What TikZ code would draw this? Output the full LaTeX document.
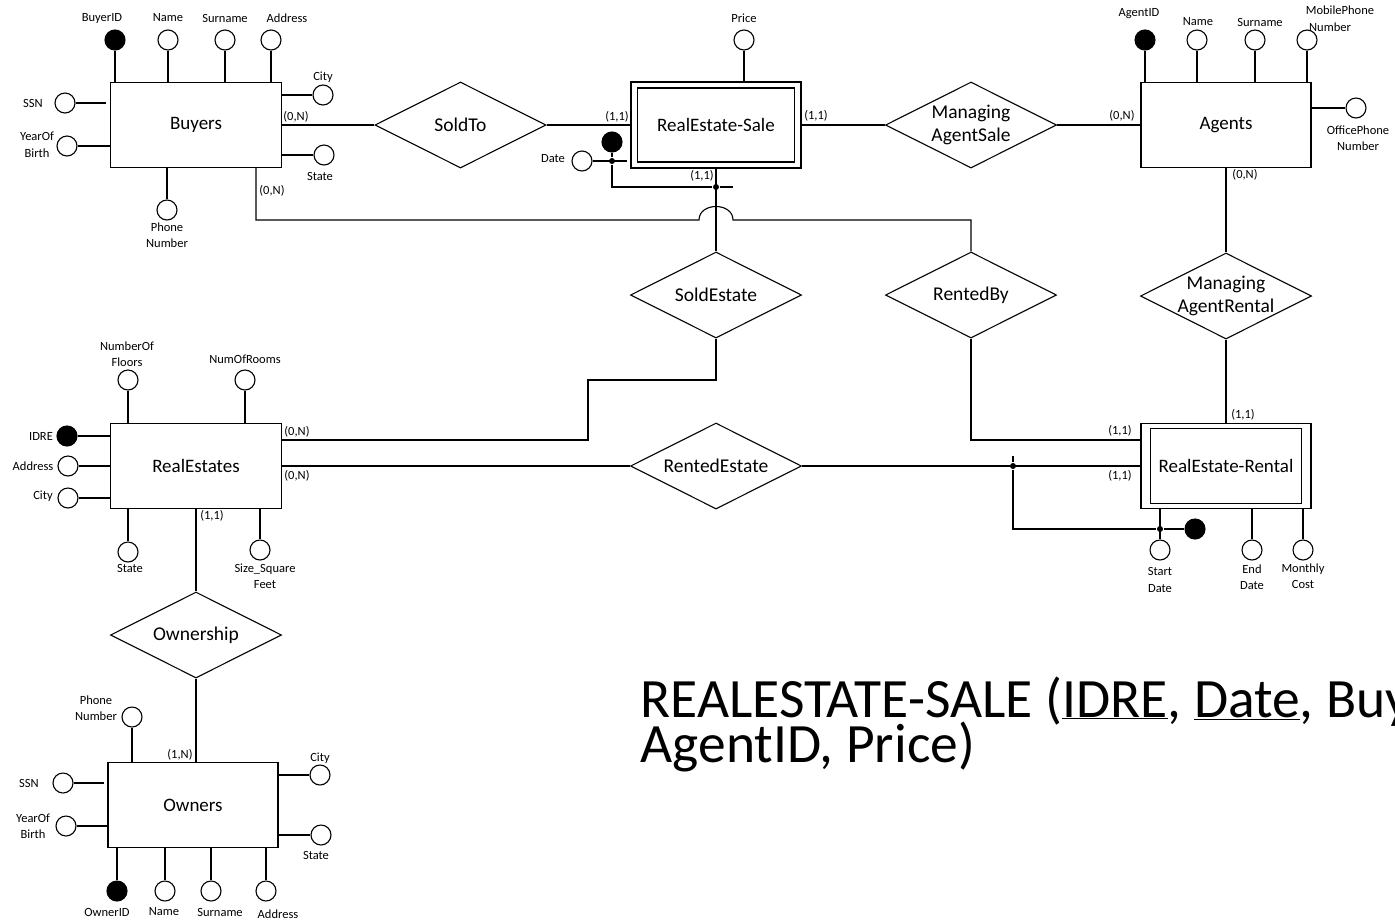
\documentclass[tikz,border=0pt]{standalone}
\usepackage{fontspec}
\setmainfont{Carlito}
\usetikzlibrary{shapes.geometric}
\begin{document}
\begin{tikzpicture}[x=1pt,y=-1pt, line width=1.1pt,
 ent/.style={draw, rectangle, minimum width=171pt, minimum height=85pt, inner sep=0pt, font=\fontsize{19}{22}\selectfont},
 rel/.style={draw, diamond, aspect=2, minimum width=171pt, minimum height=86pt, inner sep=0pt},
 reltxt/.style={font=\fontsize{19.5}{23}\selectfont, align=center, inner sep=0pt},
 attr/.style={draw, circle, minimum size=20pt, inner sep=0pt, fill=white},
 key/.style={attr, fill=black},
 lab/.style={font=\fontsize{12.5}{16.5}\selectfont, inner sep=0pt, align=center},
 dot/.style={circle, fill=black, minimum size=6pt, inner sep=0pt},
 big/.style={font=\fontsize{55.5}{60}\selectfont, inner sep=0pt, anchor=base west, text height=37pt, text depth=4pt},
]
\useasboundingbox (0,0) rectangle (1395,922);
\clip (0,0) rectangle (1395,922);

% ---------- Buyers ----------
\node[ent] (buy) at (196,125) {Buyers};
\node[key]  (b1) at (115,40) {}; \node[lab] at (102,18) {BuyerID};
\node[attr] (b2) at (168,40) {}; \node[lab] at (168,18) {Name};
\node[attr] (b3) at (225,40) {}; \node[lab] at (225,18) {Surname};
\node[attr] (b4) at (271,40) {}; \node[lab] at (287,18) {Address};
\node[attr] (b5) at (323,95) {}; \node[lab] at (323,77) {City};
\node[attr] (b6) at (324,155) {}; \node[lab] at (320,176) {State};
\node[attr] (b7) at (65,103) {}; \node[lab] at (33,103) {SSN};
\node[attr] (b8) at (67,146) {}; \node[lab] at (37,145) {YearOf\\Birth};
\node[attr] (b9) at (167,210) {}; \node[lab] at (167,235) {Phone\\Number};
\foreach \a in {b1,b2,b3,b4} \draw (\a) -- (\a |- buy.north);
\draw (b5) -- (buy.east |- b5);
\draw (b6) -- (buy.east |- b6);
\draw (b7) -- ([xshift=-4pt]buy.west |- b7);
\draw (b8) -- (buy.west |- b8);
\draw (b9) -- (b9 |- buy.south);

% ---------- RealEstate-Sale ----------
\node[ent, minimum width=170pt, minimum height=86pt] (res) at (716,125) {};
\node[ent, minimum width=157pt, minimum height=74pt] (resi) at (716,125) {RealEstate-Sale};
\node[attr] (s1) at (744,40) {}; \node[lab] at (744,18) {Price};
\draw (s1) -- (s1 |- res.north);
\node[key] (s2) at (612,142) {};
\node[attr] (s3) at (582,161) {}; \node[lab] at (553,159) {Date};
\node[dot] (d1) at (612,161) {};
\node[dot] (d2) at (716,187) {};
\coordinate (d2e) at (733,187);
\draw (s3) -- ([xshift=-3pt]res.west |- s3);
\draw (s2) -- (d1) -- (d1 |- d2) -- (d2) -- (d2e);

% ---------- SoldTo ----------
\node[rel, label={[reltxt]center:SoldTo}] (st) at (460.5,125) {};
\draw (buy.east) -- (st.west);
\draw (st.east) -- (res.west);
\node[lab] at (296,117) {(0,N)};
\node[lab] at (617,117) {(1,1)};

% ---------- Agents ----------
\node[ent, minimum width=170pt] (ag) at (1226,125) {Agents};
\node[key]  (a1) at (1145,40) {}; \node[lab] at (1139,14) {AgentID};
\node[attr] (a2) at (1197,40) {}; \node[lab] at (1198,22) {Name};
\node[attr] (a3) at (1255,40) {}; \node[lab] at (1260,22) {Surname};
\node[attr] (a4) at (1307,40) {}; \node[lab] at (1340,10) {MobilePhone};
\node[lab] at (1330,27) {Number};
\node[attr] (a5) at (1356,108) {}; \node[lab] at (1358,138) {OfficePhone\\Number};
\foreach \a in {a1,a2,a3,a4} \draw (\a) -- (\a |- ag.north);
\draw (a5) -- (ag.east |- a5);

% ---------- ManagingAgentSale ----------
\node[rel, label={[reltxt]center:{Managing\\AgentSale}}] (mas) at (971,125) {};
\draw (res.east) -- (mas.west);
\draw (mas.east) -- (ag.west);
\node[lab] at (816,116) {(1,1)};
\node[lab] at (1122,116) {(0,N)};

% ---------- ManagingAgentRental ----------
\node[rel, label={[reltxt]center:{Managing\\AgentRental}}] (mar) at (1226,296) {};
\draw (ag.south) -- (mar.north);
\node[lab] at (1245,175) {(0,N)};

% ---------- SoldEstate / RentedBy ----------
\node[rel, label={[reltxt]center:SoldEstate}] (se) at (716,295) {};
\node[rel, label={[reltxt]center:RentedBy}] (rb) at (971,295) {};
\draw (res.south) -- (se.north);
\node[lab] at (702,176) {(1,1)};
\draw ([xshift=60pt]buy.south) -- (256,220) -- (699,220)
      .. controls (699,202) and (733,202) .. (733,220) -- (971,220) -- (rb.north);
\node[lab] at (272,191) {(0,N)};

% ---------- RealEstates ----------
\node[ent] (re) at (196,466) {RealEstates};
\node[attr] (r1) at (128,380) {}; \node[lab] at (127,354) {NumberOf\\Floors};
\node[attr] (r2) at (245,380) {}; \node[lab] at (245,359) {NumOfRooms};
\node[key]  (r3) at (67,436) {}; \node[lab] at (41,436) {IDRE};
\node[attr] (r4) at (68,466) {}; \node[lab] at (33,466) {Address};
\node[attr] (r5) at (68,498) {}; \node[lab] at (43,496) {City};
\node[attr] (r6) at (128,552) {}; \node[lab] at (130,568) {State};
\node[attr] (r7) at (260,550) {}; \node[lab] at (265,576) {Size\_Square\\Feet};
\draw (r1) -- (r1 |- re.north);
\draw (r2) -- (r2 |- re.north);
\foreach \a in {r3,r4,r5} \draw (\a) -- (re.west |- \a);
\draw (r6) -- (r6 |- re.south);
\draw (r7) -- (r7 |- re.south);

% ---------- RealEstate-Rental ----------
\node[ent, minimum width=170pt] (rer) at (1226,466) {};
\node[ent, minimum width=151pt, minimum height=75pt] (reri) at (1226,466) {RealEstate-Rental};
\node[attr] (t1) at (1160,550) {}; \node[lab] at (1160,580) {Start\\Date};
\node[key]  (t2) at (1195,529) {};
\node[attr] (t3) at (1252,550) {}; \node[lab] at (1252,577) {End\\Date};
\node[attr] (t4) at (1303,550) {}; \node[lab] at (1303,576) {Monthly\\Cost};
\node[dot] (d3) at (1013,466) {};
\node[dot] (d4) at (1160,529) {};
\coordinate (d3n) at (1013,456);
\draw (t1) -- (t1 |- rer.south);
\draw (t3) -- (t3 |- rer.south);
\draw (t4) -- (t4 |- rer.south);
\draw (d3n) -- (d3) -- (d3 |- d4) -- (d4) -- (t2);

% ---------- links RealEstates / Rental ----------
\draw (se.south) -- (716,380) -- (588,380) -- (588,440) -- (re.east |- 0,440);
\node[lab] at (297,432) {(0,N)};
\draw (rb.south) -- (971,440) -- (rer.west |- 0,440);
\node[lab] at (1120,431) {(1,1)};
\draw (mar.south) -- (rer.north);
\node[lab] at (1243,415) {(1,1)};
\node[rel, label={[reltxt]center:RentedEstate}] (ren) at (716,466) {};
\draw (re.east) -- (ren.west);
\draw (ren.east) -- (rer.west);
\node[lab] at (297,476) {(0,N)};
\node[lab] at (1120,476) {(1,1)};

% ---------- Ownership / Owners ----------
\node[rel, label={[reltxt]center:Ownership}] (own) at (196,635) {};
\draw (re.south) -- (own.north);
\node[lab] at (212,516) {(1,1)};
\node[ent, minimum width=170pt] (ow) at (193,805) {Owners};
\draw (own.south) -- (own.south |- ow.north);
\node[lab] at (180,755) {(1,N)};
\node[attr] (o1) at (132,717) {}; \node[lab] at (96,708) {Phone\\Number};
\node[attr] (o2) at (63,783) {}; \node[lab] at (29,783) {SSN};
\node[attr] (o3) at (66,826) {}; \node[lab] at (33,826) {YearOf\\Birth};
\node[attr] (o4) at (320,775) {}; \node[lab] at (320,758) {City};
\node[attr] (o5) at (321,835) {}; \node[lab] at (316,855) {State};
\node[key]  (o6) at (117,891) {}; \node[lab] at (107,912) {OwnerID};
\node[attr] (o7) at (165,891) {}; \node[lab] at (164,912) {Name};
\node[attr] (o8) at (211,891) {}; \node[lab] at (220,912) {Surname};
\node[attr] (o9) at (266,891) {}; \node[lab] at (278,914) {Address};
\draw (o1) -- (o1 |- ow.north);
\draw (o2) -- ([xshift=-3pt]ow.west |- o2);
\draw (o3) -- (ow.west |- o3);
\draw (o4) -- (ow.east |- o4);
\draw (o5) -- (ow.east |- o5);
\foreach \a in {o6,o7,o8,o9} \draw (\a) -- (\a |- ow.south);

% ---------- relational schema text ----------
\node[big] (tx1) at (640,717) {REALESTATE-SALE (\underline{IDRE}, \underline{Date}, BuyerID,};
\node[big] (tx2) at (640,762) {AgentID, Price)};
\end{tikzpicture}
\end{document}
